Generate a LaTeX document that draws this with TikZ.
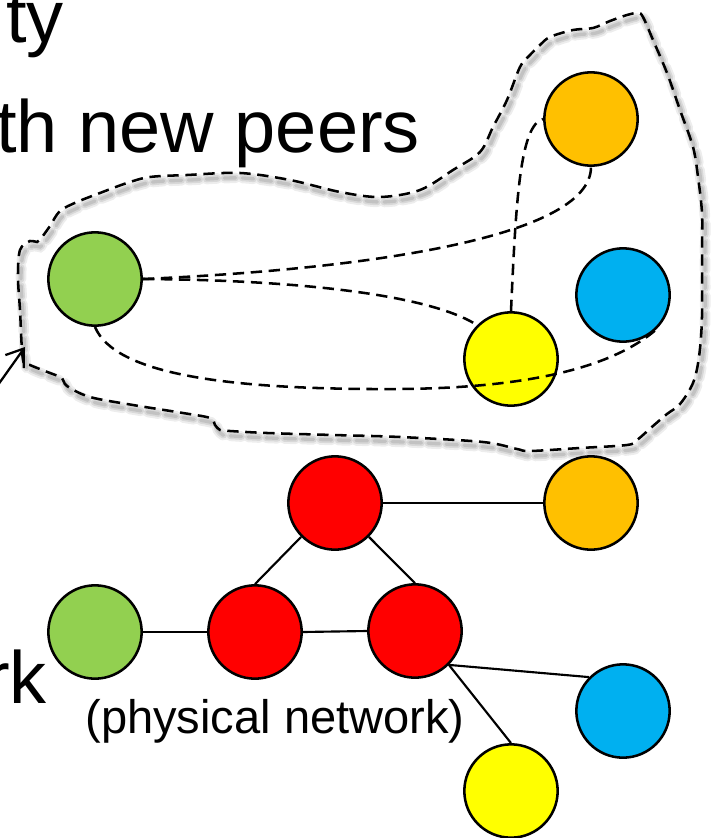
\documentclass[tikz,border=0pt]{standalone}
\usepackage{fontspec}
\setmainfont{Liberation Sans}
\usetikzlibrary{arrows.meta}
\definecolor{peergreen}{HTML}{92D050}
\definecolor{peerorange}{HTML}{FFC000}
\definecolor{peerblue}{HTML}{00B0F0}
\definecolor{peeryellow}{HTML}{FFFF00}
\definecolor{peerred}{HTML}{FF0000}
\begin{document}
\begin{tikzpicture}[x=0.75pt,y=-0.75pt,
  peer/.style={circle, draw=black, line width=1.9pt, minimum size=70pt, inner sep=0pt},
  link/.style={line width=1.6pt},
  vlink/.style={line width=1.9pt, dash pattern=on 8.5pt off 5pt},
  blobline/.style={line width=1.9pt, dash pattern=on 8.5pt off 5pt},
  blobshadow/.style={dash pattern=on 8.5pt off 5pt, draw=black, line cap=round},
  pointer/.style={line width=1.7pt, -{Straight Barb[length=12pt,width=17pt,line width=1.7pt]}},
  bigtext/.style={font=\fontsize{55.5}{60}\selectfont, inner sep=0pt},
  smalltext/.style={font=\fontsize{35.3}{40}\selectfont, inner sep=0pt}]

\path[use as bounding box, clip] (0,0) rectangle (712,838);

% slide text running in from the left
\node[bigtext, anchor=base east] (title) at (64,43) {ty};
\node[bigtext, anchor=base west] (line1) at (-4,152) {th new peers};
\node[bigtext, anchor=base east] (line2) at (47,703) {rk};
\node[smalltext, anchor=base] (phys) at (275,733) {(physical network)};

% outline of the overlay group
\def\blobpts{(23,360) (20,310) (18,277) (20,250) (30,241) (37,242) (42,237) (50,226)
  (60,211) (77,202) (100,193) (127,183) (150,177) (187,175) (240,173) (290,180)
  (340,192) (380,197) (420,190) (453,170) (480,152) (493,127) (507,100) (520,67)
  (530,55) (540,45) (550,37) (573,30) (593,28) (610,21) (627,15) (638,13) (643,17)
  (653,40) (667,73) (680,110) (693,147) (698,177) (702,213) (702,250) (702,317)
  (699,357) (693,383) (680,404) (667,414) (653,426) (637,440) (627,445) (580,448)
  (530,451) (517,449) (483,442) (400,437) (333,435) (267,433) (230,431) (220,430)
  (215,425) (210,418) (183,413) (133,405) (90,397) (67,386) (62,378) (50,373) (30,365)}
\begin{scope}[shift={(3,5)}]
  \draw[blobshadow, line width=8pt, opacity=0.07] plot[smooth cycle, tension=0.55] coordinates {\blobpts};
  \draw[blobshadow, line width=5pt, opacity=0.09] plot[smooth cycle, tension=0.55] coordinates {\blobpts};
  \draw[blobshadow, line width=2.5pt, opacity=0.1] plot[smooth cycle, tension=0.55] coordinates {\blobpts};
\end{scope}
\draw[blobline] plot[smooth cycle, tension=0.55] coordinates {\blobpts};

% pointer into the group
\coordinate (ptail) at (-12,399);
\coordinate (ptip) at (25,347);
\draw[pointer] (ptail) -- (ptip);

% overlay peers
\node[peer, fill=peergreen]  (g1) at (95,279) {};
\node[peer, fill=peerorange] (o1) at (591,119) {};
\node[peer, fill=peerblue]   (b1) at (623,295) {};
\node[peer, fill=peeryellow] (y1) at (511,359) {};

% overlay links
\draw[vlink] (g1.east) .. controls (350,270) and (591,240) .. (o1.south);
\draw[vlink] (g1.east) .. controls (300,280) and (430,295) .. (y1.north west);
\draw[vlink] (y1.north) .. controls (516,200) and (520,125) .. (o1.west);
\coordinate (low) at (400,389);
\draw[vlink] (g1.south) .. controls (115,375) and (230,390) .. (low)
  .. controls (520,388) and (610,370) .. (b1.south east);

% physical network
\node[peer, fill=peerred]    (r1) at (335,503) {};
\node[peer, fill=peerorange] (o2) at (591,503) {};
\node[peer, fill=peergreen]  (g2) at (95,632) {};
\node[peer, fill=peerred]    (r2) at (255,632) {};
\node[peer, fill=peerred]    (r3) at (415,631) {};
\node[peer, fill=peerblue]   (b2) at (623,711) {};
\node[peer, fill=peeryellow] (y2) at (511,791) {};

\draw[link] (r1.east) -- (o2.west);
\draw[link] (r1.south west) -- (r2.north);
\draw[link] (r1.south east) -- (r3.north);
\draw[link] (g2.east) -- (r2.west);
\draw[link] (r2.east) -- (r3.west);
\draw[link] (r3.south east) -- (b2.north west);
\draw[link] (r3.south east) -- (y2.north);
\end{tikzpicture}
\end{document}
